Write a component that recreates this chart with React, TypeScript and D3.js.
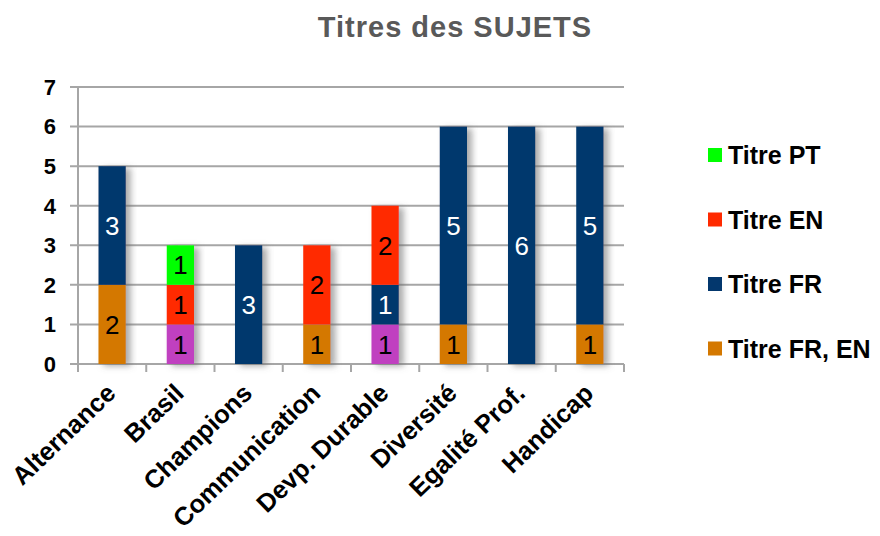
import React from "react";
import * as d3 from "d3";

const categories = [
  "Alternance",
  "Brasil",
  "Champions",
  "Communication",
  "Devp. Durable",
  "Diversité",
  "Egalité Prof.",
  "Handicap",
];

// stacked bottom -> top
const autre = [0, 1, 0, 0, 1, 0, 0, 0];
const titreFrEn = [2, 0, 0, 1, 0, 1, 0, 1];
const titreFr = [3, 0, 3, 0, 1, 5, 6, 5];
const titreEn = [0, 1, 0, 2, 2, 0, 0, 0];
const titrePt = [0, 1, 0, 0, 0, 0, 0, 0];

const yTicks = [0, 1, 2, 3, 4, 5, 6, 7];

const series = [
  { key: "autre", name: "", values: autre, color: "#C041C0", text: "#000", legend: false },
  { key: "frEn", name: "Titre FR, EN", values: titreFrEn, color: "#D47800", text: "#000", legend: true },
  { key: "fr", name: "Titre FR", values: titreFr, color: "#03376D", text: "#fff", legend: true },
  { key: "en", name: "Titre EN", values: titreEn, color: "#FF2A00", text: "#000", legend: true },
  { key: "pt", name: "Titre PT", values: titrePt, color: "#00FF00", text: "#000", legend: true },
];

const W = 880;
const H = 536;
const plot = { left: 78, right: 624, top: 87, bottom: 364 };
const font = "'Liberation Sans', Arial, sans-serif";

export default function App() {
  const rows = categories.map((c, i) => {
    const r: Record<string, any> = { cat: c };
    series.forEach((s) => (r[s.key] = s.values[i]));
    return r;
  });
  const stacked = d3.stack<any>().keys(series.map((s) => s.key))(rows);

  const x = d3.scaleBand().domain(categories).range([plot.left, plot.right]).paddingInner(0).paddingOuter(0);
  const y = d3.scaleLinear().domain([0, 7]).range([plot.bottom, plot.top]);
  const barW = x.bandwidth() * 0.4;

  const legendItems = series.filter((s) => s.legend).slice().reverse();

  return (
    <svg width={W} height={H} style={{ position: "absolute", left: 0, top: 0, background: "#fff" }} fontFamily={font}>
      <defs>
        <filter id="shadow" x="-20%" y="-10%" width="160%" height="130%">
          <feDropShadow dx="5" dy="2" stdDeviation="3" floodColor="#666" floodOpacity="0.55" />
        </filter>
      </defs>

      <text x={455} y={37} textAnchor="middle" fontSize={29} fontWeight="bold" fill="#595959" letterSpacing={1}>
        Titres des SUJETS
      </text>

      {/* grid */}
      {yTicks.map((t) => (
        <g key={t}>
          <line x1={plot.left - 8} x2={plot.right} y1={y(t)} y2={y(t)} stroke="#a6a6a6" strokeWidth={2} />
          <text x={56} y={y(t)} dy="0.36em" textAnchor="end" fontSize={22} fontWeight="bold" fill="#000">
            {t}
          </text>
        </g>
      ))}
      <line x1={plot.left} x2={plot.left} y1={plot.top} y2={plot.bottom + 8} stroke="#a6a6a6" strokeWidth={2} />
      {categories.map((c) => (
        <line
          key={c}
          x1={(x(c) as number) + x.bandwidth()}
          x2={(x(c) as number) + x.bandwidth()}
          y1={plot.bottom}
          y2={plot.bottom + 8}
          stroke="#a6a6a6"
          strokeWidth={2}
        />
      ))}

      {/* bars */}
      {categories.map((c, i) => {
        const cx = (x(c) as number) + x.bandwidth() / 2;
        return (
          <g key={c} filter="url(#shadow)">
            {stacked.map((layer, si) => {
              const d = layer[i];
              if (d[1] - d[0] <= 0) return null;
              return (
                <rect
                  key={si}
                  x={cx - barW / 2}
                  y={y(d[1])}
                  width={barW}
                  height={y(d[0]) - y(d[1])}
                  fill={series[si].color}
                />
              );
            })}
          </g>
        );
      })}

      {/* value labels */}
      {categories.map((c, i) => {
        const cx = (x(c) as number) + x.bandwidth() / 2;
        return stacked.map((layer, si) => {
          const d = layer[i];
          const v = d[1] - d[0];
          if (v <= 0) return null;
          return (
            <text
              key={c + si}
              x={cx}
              y={y((d[0] + d[1]) / 2)}
              dy="0.36em"
              textAnchor="middle"
              fontSize={26}
              fill={series[si].text}
            >
              {v}
            </text>
          );
        });
      })}

      {/* category labels */}
      {categories.map((c) => {
        const cx = (x(c) as number) + x.bandwidth() / 2 + 5;
        const ty = plot.bottom + 31;
        return (
          <text
            key={c}
            x={cx}
            y={ty}
            textAnchor="end"
            fontSize={25.5}
            fontWeight="bold"
            fill="#000"
            transform={`rotate(-44, ${cx}, ${ty})`}
          >
            {c}
          </text>
        );
      })}

      {/* legend */}
      {legendItems.map((s, i) => {
        const ly = 155 + i * 64.5;
        return (
          <g key={s.key}>
            <rect x={708} y={ly - 7} width={14} height={14} fill={s.color} />
            <text x={728} y={ly} dy="0.36em" fontSize={25} fontWeight="bold" fill="#000">
              {s.name}
            </text>
          </g>
        );
      })}
    </svg>
  );
}
